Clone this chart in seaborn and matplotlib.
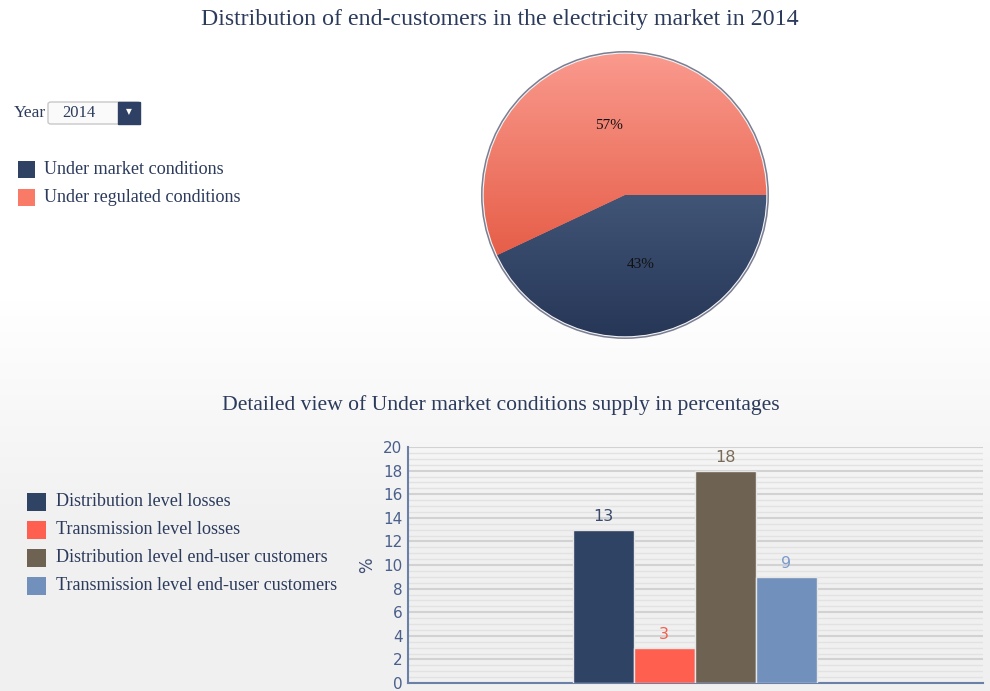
import numpy as np
import pandas as pd
import matplotlib
matplotlib.use("Agg")
import matplotlib.pyplot as plt
import seaborn as sns
from matplotlib.patches import Rectangle, Circle, FancyBboxPatch
from matplotlib.ticker import MultipleLocator

# ---------------- data ----------------
title_top = "Distribution of end-customers in the electricity market in 2014"
title_bottom = "Detailed view of Under market conditions supply in percentages"
year_label = "Year"
year_value = "2014"

pie_labels = ["Under market conditions", "Under regulated conditions"]
pie_values = [43, 57]
pie_colors = ["#2F4264", "#FA7A68"]

bar_labels = ["Distribution level losses", "Transmission level losses",
              "Distribution level end-user customers", "Transmission level end-user customers"]
bar_values = [13, 3, 18, 9]
bar_colors = ["#2F4365", "#FF5F4E", "#6E6252", "#7190BC"]
bar_text_colors = ["#3A4A6C", "#F2604E", "#7A6B58", "#7C9CCB"]
y_ticks = [0, 2, 4, 6, 8, 10, 12, 14, 16, 18, 20]
y_label = "%"

W, H = 990, 691
sns.set_theme(style="white")
plt.rcParams['font.family'] = ['DejaVu Sans']
serif = ['Liberation Serif', 'DejaVu Serif']
txt_col = "#2C3B5C"

fig = plt.figure(figsize=(W / 100, H / 100), dpi=100)
fig.patch.set_facecolor("white")

def fx(px):
    return px / W

def fy(py):
    return 1 - py / H

# background gradient (lower panel)
bg = fig.add_axes([0, 0, 1, 1], zorder=-10)
yy = np.arange(H)
vals = np.where(yy < 300, 1.0, 1.0 - np.clip((yy - 300) / 220, 0, 1) * 0.055)
img = np.dstack([vals[:, None]] * 3)
bg.imshow(img, aspect='auto', extent=[0, W, H, 0])
bg.set_xlim(0, W)
bg.set_ylim(H, 0)
bg.axis('off')

# titles
fig.text(fx(500), fy(20), title_top, ha='center', va='center', fontsize=17.2,
         family=serif, color=txt_col)
fig.text(fx(501), fy(405), title_bottom, ha='center', va='center', fontsize=15.6,
         family=serif, color=txt_col)

# year dropdown
fig.text(fx(14), fy(113), year_label, ha='left', va='center', fontsize=12.5,
         family=serif, color=txt_col)
fig.patches.append(FancyBboxPatch((fx(48), fy(124)), fx(92), 22 / H,
                                  boxstyle="round,pad=0,rounding_size=0.003",
                                  transform=fig.transFigure, facecolor="#FAFAFA",
                                  edgecolor="#C8C8C8", lw=1))
fig.patches.append(Rectangle((fx(118), fy(124)), fx(22), 22 / H, transform=fig.transFigure,
                             facecolor="#2E4063", edgecolor="#2E4063", lw=1))
fig.text(fx(129), fy(112), "\u25BC", ha='center', va='center', fontsize=5.5, color="white")
fig.text(fx(62), fy(113), year_value, ha='left', va='center', fontsize=12,
         family=serif, color=txt_col)

# top legend
for i, (lab, col) in enumerate(zip(pie_labels, pie_colors)):
    yc = 169 + i * 28
    fig.patches.append(Rectangle((fx(18), fy(yc + 9)), fx(17), 17 / H,
                                 transform=fig.transFigure, facecolor=col, edgecolor='none'))
    fig.text(fx(44), fy(yc), lab, ha='left', va='center', fontsize=13.1,
             family=serif, color=txt_col)

# bottom legend
for i, (lab, col) in enumerate(zip(bar_labels, bar_colors)):
    yc = 502 + i * 28
    fig.patches.append(Rectangle((fx(27), fy(yc + 9)), fx(19), 18 / H,
                                 transform=fig.transFigure, facecolor=col, edgecolor='none'))
    fig.text(fx(56), fy(yc), lab, ha='left', va='center', fontsize=13.1,
             family=serif, color=txt_col)

# ---------------- pie ----------------
cx, cy, size = 625, 195, 300
pax = fig.add_axes([fx(cx - size / 2), fy(cy + size / 2), fx(size), size / H])
wedges, texts, autotexts = pax.pie(pie_values, colors=pie_colors, startangle=0,
                                   counterclock=False, autopct='%d%%', pctdistance=0.5,
                                   wedgeprops=dict(edgecolor='none'),
                                   textprops=dict(fontsize=11, family=serif, color='#111111'))
pax.set_aspect('equal')
pax.axis('off')
g = np.linspace(0, 1, 256)[:, None]
grads = [
    (np.array([0x41, 0x55, 0x77]) / 255, np.array([0x26, 0x36, 0x57]) / 255),
    (np.array([0xFA, 0x9A, 0x8E]) / 255, np.array([0xE6, 0x5E, 0x48]) / 255),
]
for w, (ctop, cbot) in zip(wedges, grads):
    angs = np.radians(np.linspace(w.theta1, w.theta2, 100))
    ys = np.concatenate([np.sin(angs), [0]])
    ytop, ybot = ys.max(), ys.min()
    arr = ctop[None, None, :] * (1 - g[:, :, None]) + cbot[None, None, :] * g[:, :, None]
    im = pax.imshow(arr, extent=[-1, 1, ybot, ytop], aspect='auto', zorder=1.5)
    im.set_clip_path(w)
for t in autotexts:
    t.set_zorder(3)
pax.add_patch(Circle((0, 0), 1.0, facecolor='none', edgecolor='#7C7F93', lw=1.6, zorder=2.5))
pax.add_patch(Circle((0, 0), 0.993, facecolor='none', edgecolor='#F4F4F4', lw=0.8, zorder=2.6))
pax.set_xlim(-1.05, 1.05)
pax.set_ylim(-1.05, 1.05)

# ---------------- bars ----------------
df = pd.DataFrame({"series": bar_labels, "value": bar_values})
bax = fig.add_axes([fx(408), fy(683), fx(575), (683 - 447) / H])
bax.set_facecolor('none')
sns.barplot(data=df, x="series", y="value", hue="series", palette=bar_colors,
            width=1.0, legend=False, ax=bax, edgecolor="#E6E6E6", linewidth=1.0,
            saturation=1, zorder=3)
bax.set_xlim(-3.2, 6.23)
bax.set_ylim(0, 20)
bax.set_yticks(y_ticks)
bax.yaxis.set_minor_locator(MultipleLocator(0.5))
bax.grid(axis='y', which='major', color='#D2D2D2', lw=1.5, zorder=0)
bax.grid(axis='y', which='minor', color='#E2E2E2', lw=1.0, zorder=0)
bax.set_axisbelow(True)
bax.set_xticks([])
bax.set_xlabel("")
bax.set_ylabel(y_label, color="#3F5075", fontsize=12, labelpad=5)
bax.tick_params(axis='y', which='both', length=0, labelsize=11, labelcolor="#4A5F8C", pad=4)
for s in ['top', 'right']:
    bax.spines[s].set_visible(False)
for s in ['left', 'bottom']:
    bax.spines[s].set_color('#6B80A8')
    bax.spines[s].set_linewidth(1.5)
for i, (v, c) in enumerate(zip(bar_values, bar_text_colors)):
    bax.annotate(f"{v}", (i, v), xytext=(0, 4), textcoords='offset points',
                 ha='center', va='bottom', fontsize=11.5, color=c)

fig.savefig("out.png", dpi=100, facecolor=fig.get_facecolor())
